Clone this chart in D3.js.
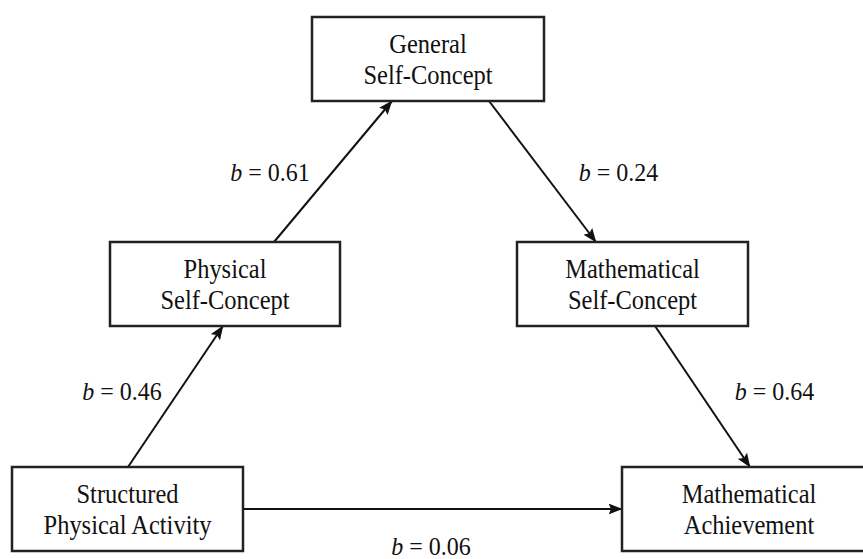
<!DOCTYPE html>
<html>
<head>
<meta charset="utf-8">
<script src="https://cdn.jsdelivr.net/npm/d3@7"></script>
<style>
  body { margin: 0; background: #fff; }
  svg { display: block; }
  svg text { font-family: "Liberation Serif", "Times New Roman", "DejaVu Serif", serif; }
</style>
</head>
<body>
<svg></svg>
<script>
const [WIDTH, HEIGHT] = [863, 559]

// --- data ---
const nodeIds = ["structured", "physical", "general", "mathSelf", "achievement"]
const nodeLabels = [
  ["Structured", "Physical Activity"],
  ["Physical", "Self-Concept"],
  ["General", "Self-Concept"],
  ["Mathematical", "Self-Concept"],
  ["Mathematical", "Achievement"]
]
const pathFrom = ["structured", "physical", "general", "mathSelf", "structured"]
const pathTo = ["physical", "general", "mathSelf", "achievement", "achievement"]
const pathB = [0.46, 0.61, 0.24, 0.64, 0.06]

// --- layout (diagram units: horizontal centre, level row, box width) ---
const nodeLayout = {
  structured: { col: 127.5, level: 2, w: 231 },
  physical: { col: 225, level: 1, w: 230 },
  general: { col: 428, level: 0, w: 232 },
  mathSelf: { col: 632.5, level: 1, w: 231 },
  achievement: { col: 749, level: 2, w: 254 }
}
const BOX_H = 84
// where each arrow leaves / enters a box: side and offset along that side
const pathAnchors = [
  { from: ["top", 0.5], to: ["bottom", -2] },
  { from: ["top", 49], to: ["bottom", -36] },
  { from: ["bottom", 61], to: ["top", -36.5] },
  { from: ["bottom", 22.5], to: ["top", 1] },
  { from: ["right", 0], to: ["left", 0] }
]
const labelPos = [[122, 400], [270, 181], [618.5, 181], [774.5, 400], [431, 555]]

const x = d3.scaleLinear().domain([0, WIDTH]).range([0, WIDTH])
const y = d3.scaleLinear().domain([0, 2]).range([59, 509])

const INK = "#111"
const STRETCH = 1.09 // the figure's type is a little taller than it is wide

const svg = d3.select("svg")
  .attr("width", WIDTH)
  .attr("height", HEIGHT)
  .attr("viewBox", `0 0 ${WIDTH} ${HEIGHT}`)

svg.append("defs")
  .append("marker")
  .attr("id", "arrow")
  .attr("markerUnits", "userSpaceOnUse")
  .attr("viewBox", "0 0 14 11")
  .attr("markerWidth", 14)
  .attr("markerHeight", 11)
  .attr("refX", 13.5)
  .attr("refY", 5.5)
  .attr("orient", "auto")
  .append("path")
  .attr("d", "M0,0 L14,5.5 L0,11 L2.5,5.5 Z")
  .attr("fill", INK)

const nodes = nodeIds.map((id, i) => {
  const l = nodeLayout[id]
  const cx = x(l.col), cy = y(l.level)
  return { id, lines: nodeLabels[i], cx, cy, w: l.w, h: BOX_H }
})
const nodeById = Object.fromEntries(nodes.map((n) => [n.id, n]))

const anchorPoint = (node, [side, off]) => {
  if (side === "top") return [node.cx + off, node.cy - node.h / 2]
  if (side === "bottom") return [node.cx + off, node.cy + node.h / 2]
  if (side === "left") return [node.cx - node.w / 2, node.cy + off]
  return [node.cx + node.w / 2, node.cy + off]
}

const paths = pathB.map((b, i) => ({
  b,
  source: anchorPoint(nodeById[pathFrom[i]], pathAnchors[i].from),
  target: anchorPoint(nodeById[pathTo[i]], pathAnchors[i].to),
  label: labelPos[i]
}))

// arrows
svg.selectAll("line.path")
  .data(paths)
  .enter()
  .append("line")
  .classed("path", true)
  .attr("x1", (d) => d.source[0])
  .attr("y1", (d) => d.source[1])
  .attr("x2", (d) => d.target[0])
  .attr("y2", (d) => d.target[1])
  .attr("stroke", INK)
  .attr("stroke-width", 2)
  .attr("marker-end", "url(#arrow)")

// boxes
const boxes = svg.selectAll("g.node")
  .data(nodes)
  .enter()
  .append("g")
  .classed("node", true)

boxes.append("rect")
  .attr("x", (d) => d.cx - d.w / 2)
  .attr("y", (d) => d.cy - d.h / 2)
  .attr("width", (d) => d.w)
  .attr("height", (d) => d.h)
  .attr("fill", "#fff")
  .attr("stroke", "#222")
  .attr("stroke-width", 2.5)

boxes.each(function (d) {
  d3.select(this)
    .selectAll("text")
    .data(d.lines)
    .enter()
    .append("text")
    .attr("transform", (line, j) => `translate(${d.cx},${d.cy - 6 + j * 30.5}) scale(1,${STRETCH})`)
    .attr("text-anchor", "middle")
    .style("font-size", "24.5px")
    .attr("fill", INK)
    .text((line) => line)
})

// coefficient labels
const labels = svg.selectAll("text.coef")
  .data(paths)
  .enter()
  .append("text")
  .classed("coef", true)
  .attr("transform", (d) => `translate(${d.label[0]},${d.label[1]}) scale(1,${STRETCH})`)
  .attr("text-anchor", "middle")
  .style("font-size", "24px")
  .attr("fill", INK)

labels.append("tspan")
  .style("font-style", "italic")
  .text("b")
labels.append("tspan")
  .text((d) => ` = ${d.b.toFixed(2)}`)
</script>
</body>
</html>
